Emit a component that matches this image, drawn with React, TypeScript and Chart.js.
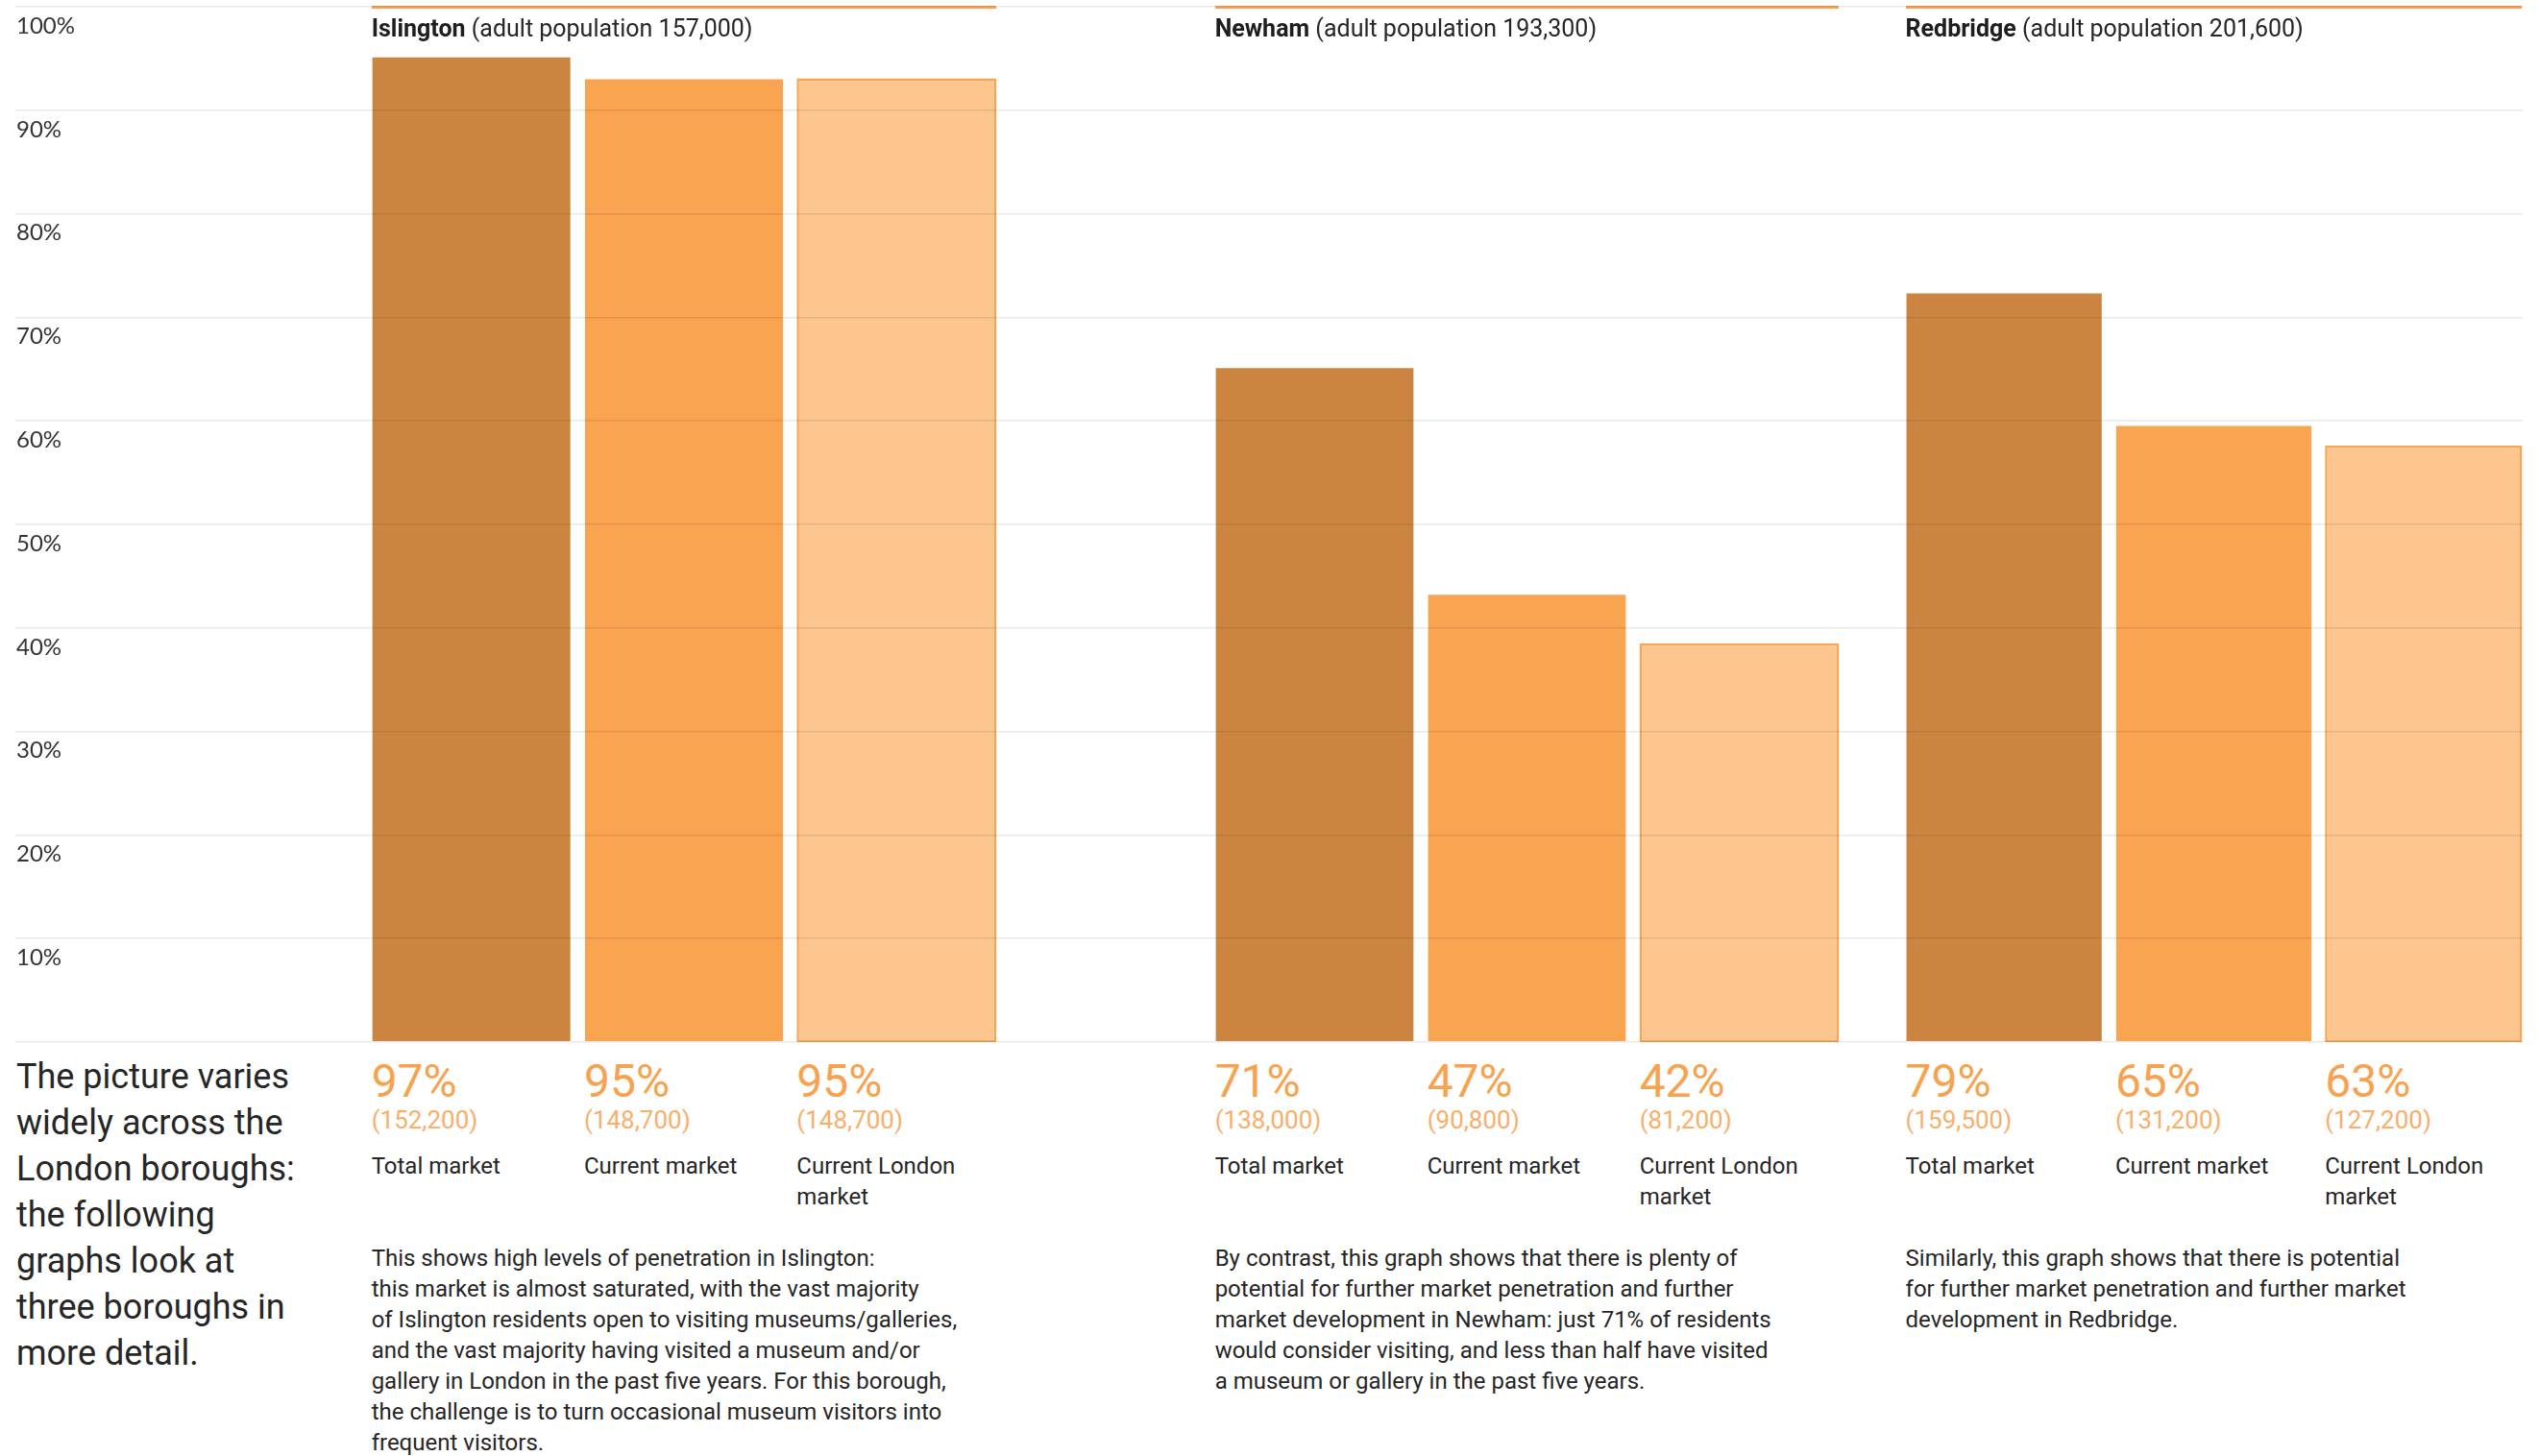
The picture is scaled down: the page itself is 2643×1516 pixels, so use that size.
import React, { useEffect, useRef } from 'react';
import { Chart, registerables } from 'chart.js';

Chart.register(...registerables);

// ---------- data ----------
const boroughs = ['Islington', 'Newham', 'Redbridge'];
const adultPopulation = ['157,000', '193,300', '201,600'];
const marketCategories = ['Total market', 'Current market', 'Current London\nmarket'];

// bar heights as drawn in the picture (% on the axis)
const totalMarketBar = [95.2, 65.2, 72.4];
const currentMarketBar = [93.1, 43.3, 59.6];
const currentLondonBar = [93.1, 38.5, 57.6];

// printed labels
const totalMarketPct = ['97%', '71%', '79%'];
const currentMarketPct = ['95%', '47%', '65%'];
const currentLondonPct = ['95%', '42%', '63%'];
const totalMarketCount = ['(152,200)', '(138,000)', '(159,500)'];
const currentMarketCount = ['(148,700)', '(90,800)', '(131,200)'];
const currentLondonCount = ['(148,700)', '(81,200)', '(127,200)'];

const yTickLabels = ['', '10%', '20%', '30%', '40%', '50%', '60%', '70%', '80%', '90%', '100%'];

const introText =
  'The picture varies\nwidely across the\nLondon boroughs:\nthe following\ngraphs look at\nthree boroughs in\nmore detail.';

const descriptions = [
  'This shows high levels of penetration in Islington:\nthis market is almost saturated, with the vast majority\nof Islington residents open to visiting museums/galleries,\nand the vast majority having visited a museum and/or\ngallery in London in the past five years. For this borough,\nthe challenge is to turn occasional museum visitors into\nfrequent visitors.',
  'By contrast, this graph shows that there is plenty of\npotential for further market penetration and further\nmarket development in Newham: just 71% of residents\nwould consider visiting, and less than half have visited\na museum or gallery in the past five years.',
  'Similarly, this graph shows that there is potential\nfor further market penetration and further market\ndevelopment in Redbridge.',
];

// ---------- layout / style ----------
const W = 2643;
const H = 1516;
const CANVAS_H = 1100;
const PAD_TOP = 7;
const PAD_BOTTOM = 15;
const panelLeft = [380, 1258, 1977];
const panelWidth = [664, 663, 655];
const BAR_PCT = 0.94;

const DARK = '#cc8540';
const MID = '#f8a451';
const LIGHT = '#fdc68e';
const PCT_COLOR = '#f8a24f';
const COUNT_COLOR = '#f9ae6a';
const TEXT = '#262626';
const FONT = 'Roboto, "Noto Sans", sans-serif';

function colLeft(i: number, j: number) {
  const cw = panelWidth[i] / 3;
  return panelLeft[i] + cw * j + (cw * (1 - BAR_PCT)) / 2;
}

function ChartCanvas(props: { config: any; left: number; top: number; width: number; height: number; z: number }) {
  const ref = useRef<HTMLCanvasElement>(null);
  useEffect(() => {
    const chart = new Chart(ref.current as HTMLCanvasElement, props.config);
    return () => chart.destroy();
  }, []);
  return (
    <canvas
      ref={ref}
      width={props.width}
      height={props.height}
      style={{
        position: 'absolute',
        left: props.left,
        top: props.top,
        width: props.width,
        height: props.height,
        zIndex: props.z,
        pointerEvents: 'none',
      }}
    />
  );
}

function barConfig(i: number) {
  return {
    type: 'bar',
    data: {
      labels: marketCategories,
      datasets: [
        {
          data: [totalMarketBar[i], currentMarketBar[i], currentLondonBar[i]],
          backgroundColor: [DARK, MID, LIGHT],
          borderColor: ['rgba(255,255,255,0.35)', 'rgba(255,255,255,0.35)', MID],
          borderWidth: [1, 1, 2.5],
          borderSkipped: false,
          barPercentage: BAR_PCT,
          categoryPercentage: 1,
        },
      ],
    },
    options: {
      responsive: false,
      animation: false,
      devicePixelRatio: 1,
      layout: { padding: { top: PAD_TOP, bottom: PAD_BOTTOM, left: 0, right: 0 } },
      plugins: { legend: { display: false }, tooltip: { enabled: false } },
      scales: {
        x: { display: false },
        y: { display: false, min: 0, max: 100 },
      },
    },
  };
}

const gridConfig = {
  type: 'bar',
  data: { labels: [''], datasets: [] },
  options: {
    responsive: false,
    animation: false,
    devicePixelRatio: 1,
    layout: { padding: { top: PAD_TOP, bottom: PAD_BOTTOM, left: 16, right: 17 } },
    plugins: { legend: { display: false }, tooltip: { enabled: false } },
    scales: {
      x: { display: false },
      y: {
        min: 0,
        max: 100,
        border: { display: false },
        grid: { color: 'rgba(0,0,0,0.085)', lineWidth: 1.5, drawTicks: false },
        afterFit: (scale: any) => {
          scale.paddingTop = 0;
          scale.paddingBottom = 0;
          scale.width = 0;
        },
        ticks: {
          stepSize: 10,
          mirror: true,
          padding: 1,
          labelOffset: 20,
          color: '#333333',
          font: { family: 'Lato', size: 24 },
          callback: (_v: any, idx: number) => yTickLabels[idx],
        },
      },
    },
  },
};

export default function App() {
  const abs = (extra: any) => ({ position: 'absolute' as const, whiteSpace: 'pre-line' as const, margin: 0, ...extra });
  return (
    <div
      style={{
        position: 'fixed',
        left: 0,
        top: 0,
        width: W,
        height: H,
        overflow: 'hidden',
        background: '#ffffff',
        fontFamily: FONT,
        color: TEXT,
      }}
    >
      {boroughs.map((b, i) => (
        <ChartCanvas key={'bar' + b} config={barConfig(i)} left={panelLeft[i]} top={0} width={panelWidth[i]} height={CANVAS_H} z={1} />
      ))}
      {boroughs.map((b, i) => {
        const l = colLeft(i, 0);
        const r = colLeft(i, 2) + (panelWidth[i] / 3) * BAR_PCT;
        return <div key={'line' + b} style={{ position: 'absolute', left: l, top: 6, width: r - l, height: 2.5, background: MID, zIndex: 1 }} />;
      })}
      <ChartCanvas config={gridConfig} left={0} top={0} width={W} height={CANVAS_H} z={2} />

      {boroughs.map((b, i) => (
        <div key={'hdr' + b} style={abs({ left: colLeft(i, 0), top: 14, fontSize: 25, lineHeight: '32px', zIndex: 3 })}>
          <b style={{ fontWeight: 700, color: '#1e1e1e' }}>{b}</b>
          {' (adult population ' + adultPopulation[i] + ')'}
        </div>
      ))}

      {boroughs.map((b, i) => {
        const pcts = [totalMarketPct[i], currentMarketPct[i], currentLondonPct[i]];
        const counts = [totalMarketCount[i], currentMarketCount[i], currentLondonCount[i]];
        return marketCategories.map((c, j) => (
          <React.Fragment key={b + c}>
            <div style={abs({ left: colLeft(i, j), top: 1098, fontSize: 48, lineHeight: '56px', color: PCT_COLOR })}>{pcts[j]}</div>
            <div style={abs({ left: colLeft(i, j), top: 1152, fontSize: 26, lineHeight: '28px', color: COUNT_COLOR })}>{counts[j]}</div>
            <div style={abs({ left: colLeft(i, j), top: 1198, fontSize: 24, lineHeight: '32px' })}>{c}</div>
          </React.Fragment>
        ));
      })}

      {descriptions.map((d, i) => (
        <div key={'desc' + i} style={abs({ left: colLeft(i, 0), top: 1294, fontSize: 24, lineHeight: '32px' })}>{d}</div>
      ))}

      <div style={abs({ left: 17, top: 1097, fontSize: 36, lineHeight: '48px' })}>{introText}</div>
    </div>
  );
}
